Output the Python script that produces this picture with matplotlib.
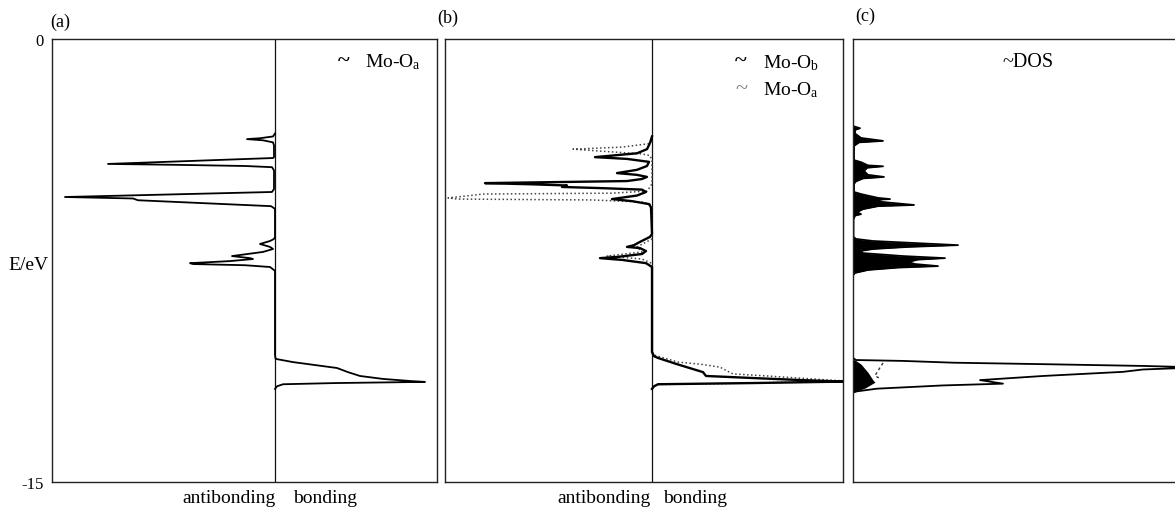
import matplotlib
matplotlib.use("Agg")
import matplotlib.pyplot as plt
import numpy as np

plt.rcParams['font.family'] = ['Liberation Serif', 'DejaVu Serif']
plt.rcParams['mathtext.fontset'] = 'custom'
plt.rcParams['mathtext.rm'] = 'Liberation Serif'
plt.rcParams['mathtext.it'] = 'Liberation Serif:italic'

# ---------------- data (energy in eV, COOP / DOS in arbitrary units) -------------
# (a) Mo-Oa COOP  (negative = antibonding, positive = bonding)
a_E = [0.0, -3.20, -3.30, -3.36, -3.39, -3.43, -3.50, -3.60, -4.00, -4.03, -4.23, -4.26,
       -4.30, -4.34, -4.45, -5.08, -5.18, -5.35, -5.40, -5.46, -5.66, -5.75, -6.70, -6.77,
       -6.84, -6.94, -7.04, -7.11, -7.21, -7.35, -7.42, -7.45, -7.52, -7.59, -7.62, -7.66,
       -7.72, -7.85, -10.70, -10.82, -10.84, -10.94, -11.14, -11.28, -11.41, -11.51, -11.58,
       -11.61, -11.65, -11.69, -11.76, -11.85, -15.0]
a_coop = [0, 0, -0.02, -0.15, -0.28, -0.12, -0.02, -0.01, -0.01, -0.02, -1.67, -1.00,
          -0.30, -0.03, -0.01, -0.01, -0.03, -2.10, -1.42, -1.37, -0.04, 0, 0, -0.01,
          -0.05, -0.15, -0.05, -0.02, -0.12, -0.43, -0.25, -0.22, -0.45, -0.85, -0.82, -0.30,
          -0.05, 0, 0, 0.005, 0.02, 0.18, 0.62, 0.73, 0.85, 1.08, 1.35,
          1.50, 0.60, 0.08, 0.02, 0, 0]

# (b) Mo-Ob COOP (solid)
b_E_ob = [0.0, -3.30, -3.52, -3.73, -3.87, -4.00, -4.06, -4.16, -4.30, -4.43, -4.54, -4.60,
          -4.67, -4.74, -4.81, -4.88, -4.92, -4.96, -5.01, -5.05, -5.10, -5.18, -5.30, -5.42,
          -5.49, -5.59, -5.70, -6.60, -6.70, -6.87, -6.98, -7.04, -7.08, -7.18, -7.28, -7.38,
          -7.42, -7.48, -7.59, -7.72, -10.60, -10.74, -10.80, -11.01, -11.28, -11.41, -11.45,
          -11.48, -11.55, -11.60, -11.65, -11.69, -11.76, -11.85, -15.0]
b_coop_ob = [0, 0, -0.02, -0.05, -0.15, -0.57, -0.25, -0.03, -0.05, -0.15, -0.35, -0.15,
             -0.05, -0.10, -0.25, -1.67, -1.20, -0.85, -0.90, -0.50, -0.10, -0.06, -0.15, -0.40,
             -0.20, -0.03, -0.01, 0, -0.02, -0.12, -0.18, -0.25, -0.12, -0.06, -0.10, -0.35,
             -0.52, -0.30, -0.06, 0, 0, 0.02, 0.06, 0.25, 0.51, 0.54, 0.81,
             1.01, 1.50, 1.92, 1.00, 0.06, 0.02, 0, 0]

# (b) Mo-Oa COOP (dotted)
b_E_oa = [0.0, -3.45, -3.55, -3.66, -3.73, -3.80, -3.89, -3.95, -4.10, -4.90, -5.01, -5.15,
          -5.22, -5.25, -5.35, -5.38, -5.42, -5.45, -5.52, -5.60, -5.70, -6.77, -7.04, -7.21,
          -7.35, -7.45, -7.60, -10.60, -10.70, -10.94, -11.01, -11.11, -11.24, -11.34, -11.41,
          -11.51, -11.58, -11.65, -11.70, -11.80, -15.0]
b_coop_oa = [0, 0, -0.04, -0.30, -0.79, -0.50, -0.10, -0.02, 0, 0, -0.02, -0.05,
             -0.40, -1.69, -1.95, -2.04, -1.95, -0.60, -0.10, -0.02, 0, 0, -0.15, -0.10,
             -0.45, -0.10, 0, 0, 0.02, 0.26, 0.48, 0.68, 0.75, 0.81, 1.15,
             1.60, 1.92, 1.00, 0.05, 0, 0]

# (c) total DOS
dos_E = [0.0, -2.95, -3.02, -3.08, -3.20, -3.35, -3.45, -3.50, -3.62, -4.10, -4.17, -4.28,
         -4.31, -4.36, -4.47, -4.60, -4.67, -4.72, -4.82, -4.90, -5.18, -5.25, -5.38, -5.42,
         -5.45, -5.52, -5.62, -5.66, -5.76, -5.86, -5.93, -5.98, -6.10, -6.70, -6.77, -6.84,
         -6.98, -7.04, -7.11, -7.18, -7.25, -7.35, -7.42, -7.47, -7.55, -7.62, -7.69, -7.74,
         -7.82, -7.92, -8.00, -10.80, -10.87, -10.90, -10.96, -11.01, -11.07, -11.11, -11.15,
         -11.19, -11.27, -11.41, -11.55, -11.67, -11.73, -11.84, -11.93, -11.97, -15.0]
dos_val = [0, 0, 0.07, 0.02, 0.02, 0.08, 0.30, 0.06, 0.01, 0.01, 0.08, 0.15,
           0.30, 0.14, 0.11, 0.15, 0.31, 0.10, 0.03, 0.01, 0.01, 0.08, 0.25, 0.37,
           0.20, 0.30, 0.61, 0.25, 0.10, 0.04, 0.08, 0.02, 0.005, 0.005, 0.03, 0.20,
           1.05, 0.55, 0.20, 0.07, 0.10, 0.50, 0.92, 0.65, 0.55, 0.62, 0.85, 0.45,
           0.15, 0.02, 0, 0, 0.03, 0.50, 1.00, 1.90, 2.90, 3.35, 3.22,
           2.90, 2.70, 1.90, 1.27, 1.50, 0.90, 0.24, 0.04, 0, 0]

# (c) projected DOS in the bonding block (filled) and dotted contribution
proj_E = [-10.85, -10.87, -11.01, -11.29, -11.55, -11.62, -11.70, -11.82, -11.93, -11.97]
proj_val = [0, 0.02, 0.08, 0.15, 0.20, 0.22, 0.18, 0.12, 0.03, 0]
dot_E = [-10.97, -11.18, -11.40, -11.50]
dot_val = [0.30, 0.26, 0.22, 0.27]

# ---------------- figure -------------
W, H = 1175, 510
fig = plt.figure(figsize=(W / 100, H / 100), dpi=100)
fig.patch.set_facecolor('white')


def px_axes(l, r, t=40, b=483):
    return fig.add_axes([l / W, 1 - b / H, (r - l) / W, (b - t) / H])


def style(ax):
    for s in ax.spines.values():
        s.set_linewidth(1.0)
        s.set_color('#222222')
    ax.set_xticks([])
    ax.set_yticks([])
    ax.set_ylim(-15, 0)


def ftext(x, y, s, **kw):
    fig.text(x / W, 1 - y / H, s, **kw)


def active(vals):
    """Hide the stretches where the curve simply lies on the zero line."""
    v = np.array(vals, dtype=float)
    nz = v != 0
    keep = nz.copy()
    keep[1:] |= nz[:-1]
    keep[:-1] |= nz[1:]
    out = v.copy()
    out[~keep] = np.nan
    return out


axa = px_axes(52, 437)
axb = px_axes(445, 843)
axc = px_axes(853, 1185)
for ax in (axa, axb, axc):
    style(ax)

# (a)
axa.set_xlim(-2.23, 1.62)
axa.axvline(0, color='#111111', lw=0.9)
axa.plot(active(a_coop), a_E, color='black', lw=1.3)
axa.set_yticks([0, -15])
axa.set_yticklabels(['0', '-15'])
axa.tick_params(axis='y', length=0, pad=6, labelsize=12)

# (b)
axb.set_xlim(-2.07, 1.91)
axb.axvline(0, color='#111111', lw=0.9)
axb.plot(active(b_coop_oa), b_E_oa, color='#444444', lw=1.1, ls=(0, (1, 1.6)))
axb.plot(active(b_coop_ob), b_E_ob, color='black', lw=1.7)

# (c)
axc.set_xlim(0, 3.32)
dE = np.array(dos_E)
dV = np.array(dos_val)
axc.fill_betweenx(dE, 0, dV, where=dE > -9, color='black', lw=0)
axc.fill_betweenx(proj_E, 0, proj_val, color='black', lw=0)
axc.plot(active(dos_val), dE, color='black', lw=1.3)
axc.plot(dot_val, dot_E, color='#333333', lw=1.0, ls=(0, (2, 2)))

# ---------------- texts -------------
ftext(60, 22, '(a)', ha='center', va='center', fontsize=13)
ftext(448, 18, '(b)', ha='center', va='center', fontsize=13)
ftext(865, 16, '(c)', ha='center', va='center', fontsize=13)

ftext(28, 266, 'E/eV', ha='center', va='center', fontsize=14)

ftext(344, 67, '~', ha='center', va='baseline', fontsize=16, fontweight='bold')
ftext(365, 67, r'Mo-O$_{\mathrm{a}}$', ha='left', va='baseline', fontsize=14)

ftext(741, 67, '~', ha='center', va='baseline', fontsize=16, fontweight='bold')
ftext(763, 68, r'Mo-O$_{\mathrm{b}}$', ha='left', va='baseline', fontsize=14)
ftext(741, 94, '~', ha='center', va='baseline', fontsize=16, color='#777777')
ftext(763, 95, r'Mo-O$_{\mathrm{a}}$', ha='left', va='baseline', fontsize=14)

ftext(1002, 67, '~DOS', ha='left', va='baseline', fontsize=14.5)

ftext(229, 503, 'antibonding', ha='center', va='baseline', fontsize=14)
ftext(325, 503, 'bonding', ha='center', va='baseline', fontsize=14)
ftext(604, 503, 'antibonding', ha='center', va='baseline', fontsize=14)
ftext(695, 503, 'bonding', ha='center', va='baseline', fontsize=14)

fig.savefig('out.png', dpi=100, facecolor='white')
